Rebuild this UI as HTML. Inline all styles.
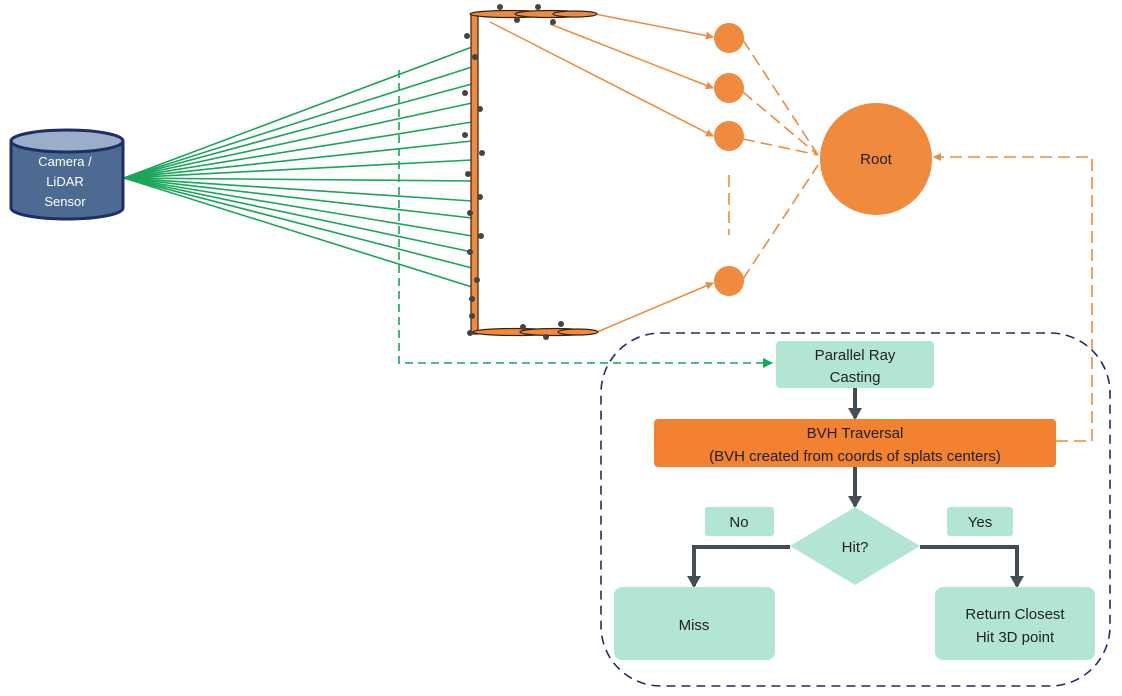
<!DOCTYPE html>
<html><head><meta charset="utf-8"><style>
html,body{margin:0;padding:0;background:#fff;}
svg{display:block;font-family:"Liberation Sans",sans-serif;}
</style></head><body>
<svg width="1122" height="696" viewBox="0 0 1122 696" xmlns="http://www.w3.org/2000/svg">
<defs>
<marker id="ao" markerWidth="8" markerHeight="8" refX="7" refY="4" orient="auto" markerUnits="userSpaceOnUse"><path d="M0,0 L8,4 L0,8 z" fill="#f08a3c"/></marker>
<marker id="ag" markerWidth="10" markerHeight="10" refX="9" refY="5" orient="auto" markerUnits="userSpaceOnUse"><path d="M0,0 L10,5 L0,10 z" fill="#1aa55a"/></marker>
<marker id="ad" markerWidth="12" markerHeight="14" refX="10" refY="7" orient="auto" markerUnits="userSpaceOnUse"><path d="M0,0 L12,7 L0,14 z" fill="#444c55"/></marker>
</defs>

<g stroke="#1aa55a" stroke-width="1.6">
<line x1="124" y1="178" x2="472" y2="47"/><line x1="124" y1="178" x2="472" y2="67"/>
<line x1="124" y1="178" x2="472" y2="84"/><line x1="124" y1="178" x2="472" y2="103"/>
<line x1="124" y1="178" x2="472" y2="122"/><line x1="124" y1="178" x2="472" y2="141"/>
<line x1="124" y1="178" x2="472" y2="160"/><line x1="124" y1="178" x2="472" y2="181"/>
<line x1="124" y1="178" x2="472" y2="201"/><line x1="124" y1="178" x2="472" y2="218"/>
<line x1="124" y1="178" x2="472" y2="236"/><line x1="124" y1="178" x2="472" y2="252"/>
<line x1="124" y1="178" x2="472" y2="268"/><line x1="124" y1="178" x2="472" y2="287"/>
</g>
<path d="M399,70 L399,363 L772,363" fill="none" stroke="#1aa55a" stroke-width="1.6" stroke-dasharray="8,5" marker-end="url(#ag)"/>

<path d="M11,141 L11,208 A56,11 0 0 0 123,208 L123,141" fill="#4d6a93" stroke="#1f2f66" stroke-width="3"/>
<ellipse cx="67" cy="141" rx="56" ry="11" fill="#9aaec9" stroke="#1f2f66" stroke-width="3"/>
<text fill="#fff" font-size="13" text-anchor="middle"><tspan x="65" y="166">Camera /</tspan><tspan x="65" y="186">LiDAR</tspan><tspan x="65" y="206">Sensor</tspan></text>

<g stroke="#f08a3c" stroke-width="1.5" fill="none" marker-end="url(#ao)">
<line x1="595" y1="14" x2="713" y2="37"/>
<line x1="550" y1="24" x2="713" y2="88"/>
<line x1="490" y1="22" x2="713" y2="136"/>
<line x1="597" y1="332" x2="713" y2="283"/>
</g>

<g fill="#f08a3c" stroke="#3a2210" stroke-width="1.2">
<rect x="471" y="14" width="7" height="320"/>
<ellipse cx="510" cy="14" rx="40" ry="3.5"/><ellipse cx="550" cy="14" rx="35" ry="3.5"/><ellipse cx="575" cy="14" rx="22" ry="3"/>
<ellipse cx="515" cy="332" rx="42" ry="3.5"/><ellipse cx="555" cy="332" rx="35" ry="3.5"/><ellipse cx="578" cy="332" rx="20" ry="3"/>
</g>
<g fill="#444">
<circle cx="467" cy="36" r="3"/><circle cx="475" cy="57" r="3"/><circle cx="465" cy="93" r="3"/><circle cx="480" cy="109" r="3"/>
<circle cx="465" cy="135" r="3"/><circle cx="482" cy="153" r="3"/><circle cx="468" cy="174" r="3"/><circle cx="480" cy="197" r="3"/>
<circle cx="470" cy="213" r="3"/><circle cx="481" cy="236" r="3"/><circle cx="470" cy="252" r="3"/><circle cx="477" cy="280" r="3"/>
<circle cx="472" cy="299" r="3"/><circle cx="472" cy="316" r="3"/>
<circle cx="500" cy="7" r="3"/><circle cx="538" cy="7" r="3"/><circle cx="517" cy="20" r="3"/><circle cx="553" cy="22" r="3"/>
<circle cx="523" cy="327" r="3"/><circle cx="561" cy="324" r="3"/><circle cx="546" cy="337" r="3"/><circle cx="470" cy="333" r="3"/>
</g>

<g stroke="#f08a3c" stroke-width="1.6" stroke-dasharray="12,6" fill="none">
<line x1="743" y1="40" x2="818" y2="155"/>
<line x1="743" y1="92" x2="818" y2="155"/>
<line x1="743" y1="139" x2="818" y2="155"/>
<line x1="743" y1="279" x2="818" y2="165"/>
<line x1="729" y1="175" x2="729" y2="235"/>
<path d="M1056,441 L1092,441 L1092,157 L934,157" marker-end="url(#ao)"/>
</g>
<g fill="#f08a3c">
<circle cx="729" cy="38" r="15"/><circle cx="729" cy="88" r="15"/><circle cx="729" cy="136" r="15"/><circle cx="729" cy="281" r="15"/>
<circle cx="876" cy="159" r="56"/>
</g>
<text x="876" y="164" font-size="15" text-anchor="middle" fill="#222">Root</text>

<rect x="601" y="333" width="509" height="353" rx="60" fill="none" stroke="#1f2f66" stroke-width="1.6" stroke-dasharray="9,6"/>

<rect x="776" y="341" width="158" height="47" rx="4" fill="#b3e6d2"/>
<text font-size="15" text-anchor="middle" fill="#222"><tspan x="855" y="360">Parallel Ray</tspan><tspan x="855" y="382">Casting</tspan></text>

<rect x="654" y="419" width="402" height="48" rx="4" fill="#f28130"/>
<text font-size="15" text-anchor="middle" fill="#222"><tspan x="855" y="438">BVH Traversal</tspan><tspan x="855" y="461">(BVH created from coords of splats centers)</tspan></text>

<g stroke="#444c55" stroke-width="4" fill="none" marker-end="url(#ad)">
<line x1="855" y1="388" x2="855" y2="418"/>
<line x1="855" y1="467" x2="855" y2="506"/>
<path d="M790,547 L694,547 L694,586"/>
<path d="M920,547 L1017,547 L1017,586"/>
</g>

<polygon points="855,507 920,546 855,585 790,546" fill="#b3e6d2"/>
<text x="855" y="552" font-size="15" text-anchor="middle" fill="#222">Hit?</text>

<rect x="705" y="507" width="69" height="29" rx="3" fill="#b3e6d2"/>
<text x="739" y="527" font-size="15" text-anchor="middle" fill="#222">No</text>
<rect x="947" y="507" width="66" height="29" rx="3" fill="#b3e6d2"/>
<text x="980" y="527" font-size="15" text-anchor="middle" fill="#222">Yes</text>

<rect x="614" y="587" width="161" height="73" rx="8" fill="#b3e6d2"/>
<text x="694" y="630" font-size="15" text-anchor="middle" fill="#222">Miss</text>
<rect x="935" y="587" width="160" height="73" rx="8" fill="#b3e6d2"/>
<text font-size="15" text-anchor="middle" fill="#222"><tspan x="1015" y="619">Return Closest</tspan><tspan x="1015" y="642">Hit 3D point</tspan></text>
</svg>
</body></html>
